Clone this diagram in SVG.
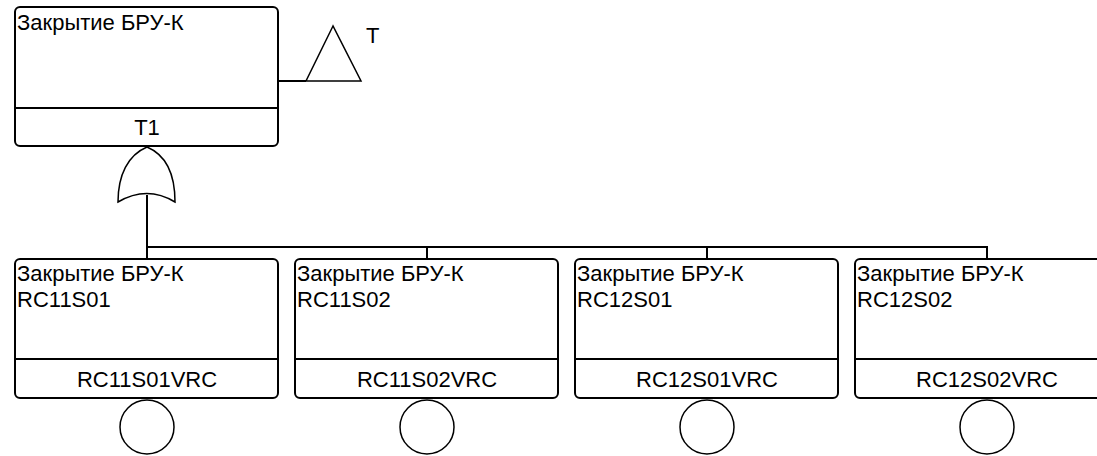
<svg xmlns="http://www.w3.org/2000/svg" width="1097" height="456" viewBox="0 0 1097 456">
<style>
.box{fill:#fff;stroke:#000;stroke-width:2}
.ln{fill:none;stroke:#000;stroke-width:2}
.sym{fill:#fff;stroke:#000;stroke-width:1.5}
text{font-family:"Liberation Sans",Arial,sans-serif;font-size:22px;fill:#000}
.c{text-anchor:middle}
</style>
<rect width="1097" height="456" fill="#fff"/>
<g id="connectors">
<line class="ln" x1="278" y1="81" x2="306" y2="81"/>
<line class="ln" x1="147" y1="195" x2="147" y2="247"/>
<line class="ln" x1="146" y1="247" x2="988" y2="247"/>
<line class="ln" x1="147" y1="247" x2="147" y2="259"/>
<line class="ln" x1="427" y1="247" x2="427" y2="259"/>
<line class="ln" x1="707" y1="247" x2="707" y2="259"/>
<line class="ln" x1="987" y1="247" x2="987" y2="259"/>
</g>
<g id="T1">
<rect class="box" x="15" y="7" width="263" height="139" rx="5"/>
<line class="ln" x1="15" y1="108" x2="278" y2="108"/>
<text x="17" y="30">Закрытие БРУ-К</text>
<text class="c" x="147" y="135">T1</text>
</g>
<g id="transfer">
<polygon class="sym" points="333,26 306,81 361,81"/>
<text x="366" y="43">T</text>
</g>
<g id="or-gate">
<path class="sym" d="M118,202 C118,175 128,155 147,147 C166,155 175,175 175,202 Q147,185 118,202 Z"/>
</g>
<g id="RC11S01VRC">
<rect class="box" x="15" y="259" width="263" height="139" rx="5"/>
<line class="ln" x1="15" y1="359" x2="278" y2="359"/>
<text x="17" y="281">Закрытие БРУ-К</text>
<text x="17" y="307">RC11S01</text>
<text class="c" x="147" y="387">RC11S01VRC</text>
<circle class="sym" cx="147" cy="427" r="27"/>
</g>
<g id="RC11S02VRC">
<rect class="box" x="295" y="259" width="263" height="139" rx="5"/>
<line class="ln" x1="295" y1="359" x2="558" y2="359"/>
<text x="297" y="281">Закрытие БРУ-К</text>
<text x="297" y="307">RC11S02</text>
<text class="c" x="427" y="387">RC11S02VRC</text>
<circle class="sym" cx="427" cy="427" r="27"/>
</g>
<g id="RC12S01VRC">
<rect class="box" x="575" y="259" width="263" height="139" rx="5"/>
<line class="ln" x1="575" y1="359" x2="838" y2="359"/>
<text x="577" y="281">Закрытие БРУ-К</text>
<text x="577" y="307">RC12S01</text>
<text class="c" x="707" y="387">RC12S01VRC</text>
<circle class="sym" cx="707" cy="427" r="27"/>
</g>
<g id="RC12S02VRC">
<rect class="box" x="855" y="259" width="263" height="139" rx="5"/>
<line class="ln" x1="855" y1="359" x2="1118" y2="359"/>
<text x="857" y="281">Закрытие БРУ-К</text>
<text x="857" y="307">RC12S02</text>
<text class="c" x="987" y="387">RC12S02VRC</text>
<circle class="sym" cx="987" cy="427" r="27"/>
</g>
</svg>
